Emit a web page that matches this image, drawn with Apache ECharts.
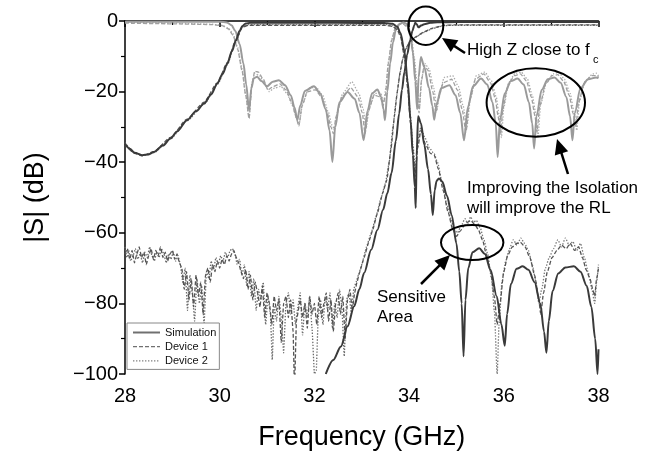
<!DOCTYPE html>
<html>
<head>
<meta charset="utf-8">
<script src="https://cdn.jsdelivr.net/npm/echarts@6/dist/echarts.min.js"></script>
<style>
  html, body { margin: 0; padding: 0; background: #fff; }
  #chart { width: 657px; height: 454px; }
</style>
</head>
<body>
<div id="chart"></div>
<script>
// ---------------------------- data : [GHz, dB] ----------------------------
// channel 1 transmission
const s21Sim = [[28.00,-34.7],[28.10,-36.2],[28.20,-37.3],[28.36,-38.0],[28.50,-37.8],[28.61,-37.1],[28.80,-35.3],[28.96,-33.3],[29.10,-31.3],[29.31,-28.1],[29.50,-25.6],[29.67,-23.4],[29.82,-20.8],[29.95,-17.7],[30.06,-15.0],[30.16,-12.1],[30.26,-8.5],[30.34,-5.5],[30.42,-2.8],[30.48,-1.4],[30.55,-0.7],[30.65,-0.5],[31.50,-0.5],[32.50,-0.5],[33.50,-0.6],[33.65,-0.8],[33.75,-1.6],[33.82,-3.5],[33.90,-8.5],[33.97,-17],[34.03,-28],[34.08,-38],[34.12,-47],[34.14,-53],[34.16,-38],[34.19,-27],[34.25,-29],[34.32,-35],[34.40,-42],[34.46,-49],[34.50,-55],[34.54,-48],[34.58,-45.3],[34.63,-44.6],[34.70,-45.5],[34.80,-49.5],[34.90,-55],[35.00,-63],[35.06,-71],[35.11,-80],[35.15,-95],[35.19,-79],[35.25,-70],[35.34,-65.5],[35.48,-64.4],[35.60,-66],[35.72,-70.5],[35.85,-78],[35.95,-86],[36.02,-92],[36.07,-83],[36.15,-74.5],[36.27,-70.2],[36.40,-69.5],[36.52,-70.5],[36.65,-74],[36.77,-80],[36.85,-88],[36.90,-94],[36.95,-85],[37.03,-76.5],[37.15,-71.5],[37.30,-69.8],[37.48,-69.5],[37.62,-71],[37.75,-75],[37.85,-81],[37.93,-90],[37.98,-100],[38.00,-93]];
const s21Dev1 = [[28.00,-35],[28.20,-37.5],[28.36,-38.2],[28.61,-37.0],[28.96,-33.0],[29.31,-27.8],[29.67,-23.0],[29.95,-17.5],[30.16,-11.8],[30.34,-5.4],[30.48,-1.8],[30.60,-1.2],[31.50,-1.2],[32.50,-1.2],[33.50,-1.2],[33.65,-1.5],[33.75,-2.5],[33.82,-4.5],[33.90,-10],[33.97,-19],[34.03,-29],[34.08,-37],[34.13,-44],[34.18,-36],[34.25,-31],[34.35,-35],[34.45,-37.5],[34.53,-38],[34.62,-42],[34.72,-48],[34.82,-54],[34.92,-59],[35.00,-61],[35.08,-59.5],[35.16,-58],[35.24,-57],[35.30,-56.5],[35.38,-57.5],[35.46,-59],[35.55,-62],[35.63,-66],[35.72,-71],[35.80,-78],[35.86,-86],[35.92,-80],[36.00,-71],[36.08,-66.5],[36.18,-64],[36.27,-63],[36.35,-62.7],[36.45,-64],[36.55,-67],[36.65,-72],[36.73,-78],[36.78,-83],[36.84,-77],[36.92,-71],[37.02,-67],[37.12,-65],[37.22,-63.5],[37.32,-64.5],[37.40,-63],[37.50,-65],[37.58,-64],[37.66,-67],[37.74,-70.5],[37.82,-73],[37.88,-76],[37.92,-78],[37.96,-73],[38.00,-70]];
const s21Dev2 = [[28.00,-34.5],[28.20,-37.2],[28.36,-38.1],[28.61,-37.3],[28.96,-33.4],[29.31,-28.3],[29.67,-23.6],[29.95,-18.0],[30.16,-12.4],[30.34,-5.8],[30.48,-1.7],[30.60,-1.0],[31.50,-1.0],[32.50,-1.0],[33.50,-1.0],[33.65,-1.3],[33.75,-2.2],[33.82,-4.0],[33.90,-9.5],[33.97,-18],[34.03,-27],[34.08,-35],[34.13,-42],[34.18,-34],[34.25,-30],[34.33,-33],[34.43,-36],[34.53,-37.6],[34.60,-40],[34.70,-46],[34.80,-52],[34.88,-56],[34.95,-59],[35.02,-60],[35.10,-58],[35.18,-56],[35.24,-57.5],[35.30,-55.5],[35.36,-57],[35.42,-56.5],[35.50,-58.5],[35.58,-62],[35.66,-66],[35.74,-73],[35.80,-82],[35.86,-100],[35.90,-86],[35.96,-74],[36.04,-68],[36.12,-64.5],[36.20,-62],[36.28,-63.5],[36.36,-61.5],[36.44,-63],[36.52,-65],[36.60,-69],[36.68,-74],[36.74,-80],[36.80,-76],[36.88,-70],[36.96,-67],[37.05,-64.5],[37.14,-62],[37.22,-64],[37.30,-61.5],[37.38,-63.5],[37.46,-62.5],[37.54,-65],[37.62,-63],[37.70,-67],[37.78,-71],[37.86,-76],[37.92,-80],[37.96,-74],[38.00,-69]];

// channel 2 transmission
const s31Sim = [[32.24,-100],[32.40,-96],[32.56,-92.2],[32.70,-86.5],[32.84,-80.8],[32.95,-76],[33.05,-71.4],[33.20,-64.8],[33.33,-59.2],[33.45,-53.5],[33.54,-48.8],[33.63,-43],[33.72,-34],[33.79,-26.2],[33.85,-19.5],[33.90,-14.5],[33.96,-9.5],[34.02,-5.5],[34.07,-2.8],[34.11,-1.2],[34.13,-0.5],[34.16,-0.9],[34.20,-1.8],[34.25,-1.3],[34.32,-0.9],[34.45,-0.5],[34.60,-0.35],[35.00,-0.3],[36.00,-0.3],[37.00,-0.3],[38.00,-0.3]];
const s31Dev1 = [[28.00,-66],[28.05,-64.5],[28.10,-67.5],[28.15,-65],[28.20,-68.5],[28.25,-66],[28.30,-64],[28.35,-67],[28.40,-65.5],[28.45,-69],[28.50,-66.5],[28.55,-64.5],[28.60,-67.5],[28.65,-65],[28.70,-66.5],[28.75,-64],[28.80,-67],[28.85,-65.5],[28.90,-68],[28.95,-66],[29.00,-65],[29.05,-67.5],[29.10,-66],[29.15,-68.5],[29.20,-70],[29.25,-76],[29.30,-71],[29.35,-79],[29.40,-73],[29.45,-81],[29.50,-72],[29.55,-78],[29.60,-74],[29.65,-83],[29.70,-72],[29.75,-70],[29.80,-74],[29.85,-69],[29.90,-71],[29.95,-68],[30.00,-70],[30.05,-67.5],[30.10,-69],[30.15,-66.5],[30.20,-68],[30.25,-66],[30.30,-65],[30.35,-67],[30.40,-68.5],[30.45,-71],[30.50,-73],[30.55,-70.5],[30.60,-76],[30.65,-72],[30.70,-79],[30.75,-74],[30.80,-77],[30.85,-81],[30.90,-75],[30.95,-84],[31.00,-77],[31.05,-80],[31.10,-86],[31.15,-78],[31.20,-82],[31.25,-79],[31.30,-91],[31.35,-80],[31.40,-78],[31.45,-84],[31.50,-79],[31.55,-88],[31.58,-104],[31.62,-85],[31.70,-79],[31.75,-84],[31.80,-80],[31.85,-87],[31.90,-78],[31.95,-83],[32.00,-80],[32.05,-86],[32.10,-78],[32.15,-84],[32.20,-80],[32.25,-77],[32.30,-85],[32.35,-79],[32.40,-88],[32.45,-80],[32.50,-77],[32.55,-83],[32.60,-78],[32.65,-90],[32.70,-79],[32.75,-76],[32.80,-82],[32.85,-77],[32.90,-74],[32.95,-71.4],[33.05,-67],[33.15,-62.5],[33.23,-59.2],[33.33,-54.5],[33.44,-48.8],[33.53,-45],[33.62,-36],[33.69,-27],[33.75,-20],[33.81,-14.5],[33.87,-10.5],[33.94,-7.5],[34.02,-5.8],[34.14,-4.5],[34.30,-3.2],[34.50,-2.0],[34.74,-1.2],[35.00,-1.1],[36.00,-1.1],[37.00,-1.1],[38.00,-1.1]];
const s31Dev2 = [[28.00,-64],[28.04,-67],[28.08,-65],[28.12,-68],[28.17,-66.5],[28.22,-64.5],[28.27,-67.5],[28.32,-66],[28.37,-68.5],[28.42,-65.5],[28.47,-67],[28.52,-64],[28.57,-66.5],[28.62,-68],[28.67,-65.5],[28.72,-67],[28.77,-64.5],[28.82,-66],[28.87,-68.5],[28.92,-66],[28.97,-67.5],[29.02,-65.5],[29.07,-68],[29.12,-66.5],[29.17,-69],[29.22,-74],[29.27,-70],[29.32,-82],[29.37,-72],[29.42,-77],[29.47,-85],[29.52,-73],[29.57,-80],[29.62,-75],[29.67,-86],[29.72,-71],[29.77,-73],[29.82,-68],[29.87,-70.5],[29.92,-67],[29.97,-69],[30.02,-66.5],[30.07,-68],[30.12,-65.5],[30.17,-67],[30.22,-65],[30.27,-64.5],[30.32,-66],[30.37,-69],[30.42,-67.5],[30.47,-72],[30.52,-69],[30.57,-75],[30.62,-71],[30.67,-78],[30.72,-73],[30.77,-82],[30.82,-76],[30.87,-79],[30.92,-74],[30.97,-86],[31.02,-78],[31.07,-83],[31.11,-96],[31.15,-81],[31.20,-85],[31.25,-78],[31.30,-84],[31.35,-94],[31.40,-80],[31.45,-77],[31.50,-83],[31.55,-79],[31.60,-86],[31.65,-81],[31.70,-77],[31.75,-89],[31.80,-80],[31.85,-84],[31.90,-78],[31.95,-87],[32.00,-100],[32.04,-99],[32.08,-84],[32.13,-79],[32.18,-86],[32.23,-78],[32.28,-82],[32.33,-77],[32.38,-87],[32.43,-80],[32.48,-84],[32.53,-76],[32.58,-81],[32.63,-95],[32.68,-79],[32.73,-77],[32.78,-83],[32.83,-76],[32.88,-74],[32.93,-72],[33.00,-69],[33.10,-64],[33.20,-60],[33.30,-55.5],[33.40,-50.5],[33.50,-46],[33.58,-40],[33.66,-30],[33.73,-22],[33.80,-15.5],[33.86,-11],[33.93,-8],[34.01,-6],[34.14,-4.6],[34.30,-3.3],[34.50,-2.1],[34.74,-1.3],[35.00,-1.2],[36.00,-1.2],[37.00,-1.2],[38.00,-1.2]];

// common port return loss
const s11Sim = [[28.00,-0.2],[30.00,-0.2],[30.15,-0.4],[30.25,-1.2],[30.33,-2.8],[30.42,-6.5],[30.50,-12],[30.56,-18],[30.62,-25.3],[30.67,-19],[30.72,-16.2],[30.79,-15.8],[30.88,-17],[31.00,-18.5],[31.12,-17.2],[31.25,-16.8],[31.38,-18.2],[31.50,-21],[31.58,-24.5],[31.64,-28.1],[31.70,-24],[31.80,-19.8],[31.99,-18.5],[32.12,-20.5],[32.24,-25],[32.32,-31],[32.38,-39.9],[32.44,-30],[32.53,-23],[32.70,-20.1],[32.85,-22],[32.95,-26],[33.04,-33.8],[33.12,-25.5],[33.22,-20.5],[33.33,-19.4],[33.41,-21.5],[33.46,-25],[33.49,-28.1],[33.54,-20],[33.60,-12],[33.66,-6],[33.72,-2.5],[33.80,-0.8],[33.88,-0.4],[33.95,-0.8],[34.02,-3],[34.08,-9],[34.13,-17],[34.17,-25],[34.20,-16],[34.25,-10.2],[34.32,-13],[34.42,-19],[34.49,-24],[34.53,-28],[34.58,-23.5],[34.68,-19],[34.85,-18.2],[34.98,-21],[35.08,-26],[35.16,-33.8],[35.24,-24.5],[35.35,-18.5],[35.52,-16.3],[35.65,-18],[35.76,-23],[35.83,-29],[35.87,-38.5],[35.92,-28],[36.02,-20.5],[36.15,-17],[36.29,-16.3],[36.42,-18],[36.53,-23],[36.60,-29],[36.64,-36.1],[36.69,-27],[36.80,-19.5],[36.93,-16.5],[37.07,-16],[37.20,-17.5],[37.32,-21.5],[37.40,-27],[37.45,-33.8],[37.50,-26],[37.62,-19],[37.78,-16.5],[37.95,-16],[38.00,-16.2]];
const s11Dev1 = [[28.00,-0.6],[29.00,-0.8],[29.80,-1.0],[30.05,-1.3],[30.18,-2.2],[30.28,-4],[30.38,-8],[30.47,-14],[30.55,-21],[30.62,-27.6],[30.68,-18],[30.74,-14.2],[30.82,-14.5],[30.92,-16.5],[31.02,-19.5],[31.14,-18.5],[31.27,-17.8],[31.40,-19.5],[31.52,-23],[31.61,-27],[31.67,-29.8],[31.74,-24],[31.85,-20],[32.02,-19.5],[32.15,-21.5],[32.27,-26],[32.35,-30],[32.40,-31.9],[32.46,-27],[32.58,-21.5],[32.77,-18.9],[32.92,-21.5],[33.01,-26],[33.07,-31.9],[33.14,-25.5],[33.26,-21],[33.39,-21.5],[33.45,-24],[33.50,-21],[33.56,-12],[33.63,-5.5],[33.70,-2.2],[33.78,-1.0],[33.88,-0.9],[33.96,-1.8],[34.04,-5],[34.10,-11],[34.16,-19],[34.21,-26],[34.26,-17],[34.32,-12.5],[34.40,-14],[34.50,-20],[34.57,-26],[34.62,-22],[34.72,-17.5],[34.90,-16.5],[35.02,-19.5],[35.12,-25],[35.20,-31.5],[35.28,-22.5],[35.40,-16.5],[35.58,-15],[35.72,-17.5],[35.82,-22],[35.88,-27],[35.93,-32],[35.98,-25],[36.08,-18.5],[36.22,-15.5],[36.35,-15],[36.48,-17],[36.58,-21.5],[36.66,-27],[36.70,-31.5],[36.76,-24],[36.88,-18],[37.02,-15.5],[37.14,-15.2],[37.26,-17],[37.38,-21],[37.46,-26],[37.52,-30],[37.58,-23],[37.70,-17.5],[37.86,-15.5],[37.98,-15.5],[38.00,-16]];
const s11Dev2 = [[28.00,-0.4],[29.00,-0.6],[29.80,-0.9],[30.05,-1.2],[30.18,-2.0],[30.28,-3.6],[30.38,-7.5],[30.47,-13.5],[30.55,-21],[30.62,-27.6],[30.68,-17.5],[30.74,-14.8],[30.84,-15.5],[30.94,-17.5],[31.04,-20],[31.16,-19],[31.29,-18.5],[31.42,-20.5],[31.54,-24],[31.62,-27.5],[31.68,-29],[31.75,-23.5],[31.88,-19],[32.04,-18.8],[32.17,-21],[32.29,-25.5],[32.37,-29.5],[32.42,-30.5],[32.48,-26],[32.60,-20.5],[32.79,-17.2],[32.94,-20.5],[33.03,-25],[33.09,-30.5],[33.16,-24.5],[33.28,-20.5],[33.40,-20.5],[33.46,-23],[33.51,-19],[33.57,-11],[33.64,-5],[33.71,-2.0],[33.79,-0.9],[33.88,-0.8],[33.97,-1.6],[34.05,-4.5],[34.11,-10.5],[34.17,-18],[34.22,-24.5],[34.27,-16],[34.33,-12],[34.42,-13.5],[34.52,-19],[34.59,-25],[34.64,-21],[34.74,-16],[34.92,-15.5],[35.04,-18.5],[35.14,-24],[35.22,-30],[35.30,-21.5],[35.42,-15.5],[35.60,-14.5],[35.74,-17],[35.84,-21.5],[35.90,-26.5],[35.95,-33],[36.00,-24.5],[36.10,-17.5],[36.24,-14.8],[36.37,-14.5],[36.50,-16.5],[36.60,-21],[36.68,-26.5],[36.72,-33],[36.78,-23.5],[36.90,-17.5],[37.04,-15],[37.16,-14.5],[37.28,-16.5],[37.40,-20.5],[37.48,-25.5],[37.54,-31],[37.60,-22.5],[37.72,-17],[37.88,-15],[37.96,-14.8],[38.00,-15.5]];

const legendNames = ['Simulation', 'Device 1', 'Device 2'];

// ---------------------------- 样式 ----------------------------
const FONT = 'Liberation Sans, Arial, sans-serif';
const DARK = '#3a3a3a';
const GRAY = '#9a9a9a';
const DASH = [4, 2];
const DOT = [1.4, 1.6];
const NO_SYMBOL = { color: 'rgba(0,0,0,0)', borderWidth: 0, opacity: 0 };

function curve(name, data, color, width, type, smooth) {
  return {
    name: name,
    type: 'line',
    data: data,
    symbol: 'none',
    smooth: smooth,
    smoothMonotone: 'x',
    lineStyle: { color: color, width: width, type: type },
    itemStyle: { color: color },
    emphasis: { disabled: true },
    silent: true
  };
}

// 箭头: 尾 -> 尖
function arrow(x1, y1, x2, y2) {
  const dx = x2 - x1, dy = y2 - y1, L = Math.hypot(dx, dy);
  const ux = dx / L, uy = dy / L, hl = 15, hw = 7;
  const bx = x2 - ux * hl, by = y2 - uy * hl;
  return [
    { type: 'line', shape: { x1: x1, y1: y1, x2: bx + ux * 2, y2: by + uy * 2 }, style: { stroke: '#000', lineWidth: 2.5 } },
    { type: 'polygon', shape: { points: [[x2, y2], [bx - uy * hw, by + ux * hw], [bx + uy * hw, by - ux * hw]] }, style: { fill: '#000' } }
  ];
}
function ring(cx, cy, rx, ry) {
  return { type: 'ellipse', shape: { cx: cx, cy: cy, rx: rx, ry: ry }, style: { fill: null, stroke: '#000', lineWidth: 2 }, z: 100 };
}
function label(x, y, text, size) {
  return { type: 'text', x: x, y: y, style: { text: text, fill: '#000', font: (size || 17) + 'px ' + FONT, verticalAlign: 'top' }, z: 100 };
}

const minus = v => String(v).replace('-', '\u2212');

let myChart = echarts.init(document.getElementById('chart'), null, { renderer: 'canvas' });
let option = {
  backgroundColor: '#fff',
  animation: false,
  grid: { left: 125, right: 58.5, top: 21, bottom: 80, containLabel: false, outerBoundsMode: 'none' },
  xAxis: {
    type: 'value', min: 28, max: 38, interval: 2,
    name: 'Frequency (GHz)', nameLocation: 'middle', nameGap: 50,
    nameTextStyle: { fontSize: 27, color: '#000', fontFamily: FONT },
    axisLine: { lineStyle: { color: '#000', width: 1.5 } },
    axisTick: { show: true, length: 6, inside: false, lineStyle: { color: '#000', width: 1.5 } },
    minorTick: { show: true, splitNumber: 2, length: 4, lineStyle: { color: '#000', width: 1.2 } },
    axisLabel: { fontSize: 20, color: '#000', fontFamily: FONT, margin: 12 },
    splitLine: { show: false }
  },
  yAxis: {
    type: 'value', min: -100, max: 0, interval: 20,
    name: '|S| (dB)', nameLocation: 'middle', nameGap: 76, nameRotate: 90,
    nameTextStyle: { fontSize: 27, color: '#000', fontFamily: FONT },
    axisLine: { show: true, lineStyle: { color: '#000', width: 1.5 } },
    axisTick: { show: true, length: 6, inside: false, lineStyle: { color: '#000', width: 1.5 } },
    minorTick: { show: true, splitNumber: 2, length: 4, lineStyle: { color: '#000', width: 1.2 } },
    axisLabel: { fontSize: 20, color: '#000', fontFamily: FONT, margin: 7, formatter: minus },
    splitLine: { show: false }
  },
  legend: {
    data: [
      { name: legendNames[0], lineStyle: { color: '#707070', width: 2, type: 'solid' }, itemStyle: NO_SYMBOL },
      { name: legendNames[1], lineStyle: { color: '#707070', width: 1.3, type: DASH }, itemStyle: NO_SYMBOL },
      { name: legendNames[2], lineStyle: { color: '#808080', width: 1.3, type: DOT }, itemStyle: NO_SYMBOL }
    ],
    orient: 'vertical', left: 127, top: 323,
    itemWidth: 27, itemHeight: 10, itemGap: 3.2,
    padding: [4, 3, 3, 5],
    borderColor: '#888', borderWidth: 1, borderRadius: 0,
    backgroundColor: '#fff',
    selectedMode: false,
    textStyle: { fontSize: 11, color: '#111', fontFamily: FONT }
  },
  series: [
    curve(legendNames[2], s11Dev2, '#aaaaaa', 1.3, DOT, 0.2),
    curve(legendNames[1], s11Dev1, '#a0a0a0', 1.3, DASH, 0.2),
    curve(legendNames[0], s11Sim, GRAY, 2, 'solid', 0.3),
    curve(legendNames[2], s31Dev2, '#6a6a6a', 1.3, DOT, 0.1),
    curve(legendNames[1], s31Dev1, '#555555', 1.3, DASH, 0.1),
    curve(legendNames[2], s21Dev2, '#777777', 1.3, DOT, 0.2),
    curve(legendNames[1], s21Dev1, '#555555', 1.3, DASH, 0.2),
    curve(legendNames[0], s31Sim, DARK, 2, 'solid', 0.3),
    curve(legendNames[0], s21Sim, DARK, 2, 'solid', 0.3)
  ],
  graphic: [].concat(
    [ring(425.8, 25.8, 17.5, 19.2), ring(535.8, 102.5, 49.2, 34.2), ring(472.2, 242.5, 31.2, 17.5)],
    arrow(465, 53, 442, 38),
    arrow(568, 174, 557, 139),
    arrow(421, 284, 450, 255),
    [
      label(467, 42, 'High Z close to f'),
      label(593, 54, 'c', 11),
      label(467, 180, 'Improving the Isolation'),
      label(467, 200, 'will improve the RL'),
      label(377, 289, 'Sensitive'),
      label(377, 309, 'Area')
    ]
  )
};
myChart.setOption(option);
</script>
</body>
</html>
